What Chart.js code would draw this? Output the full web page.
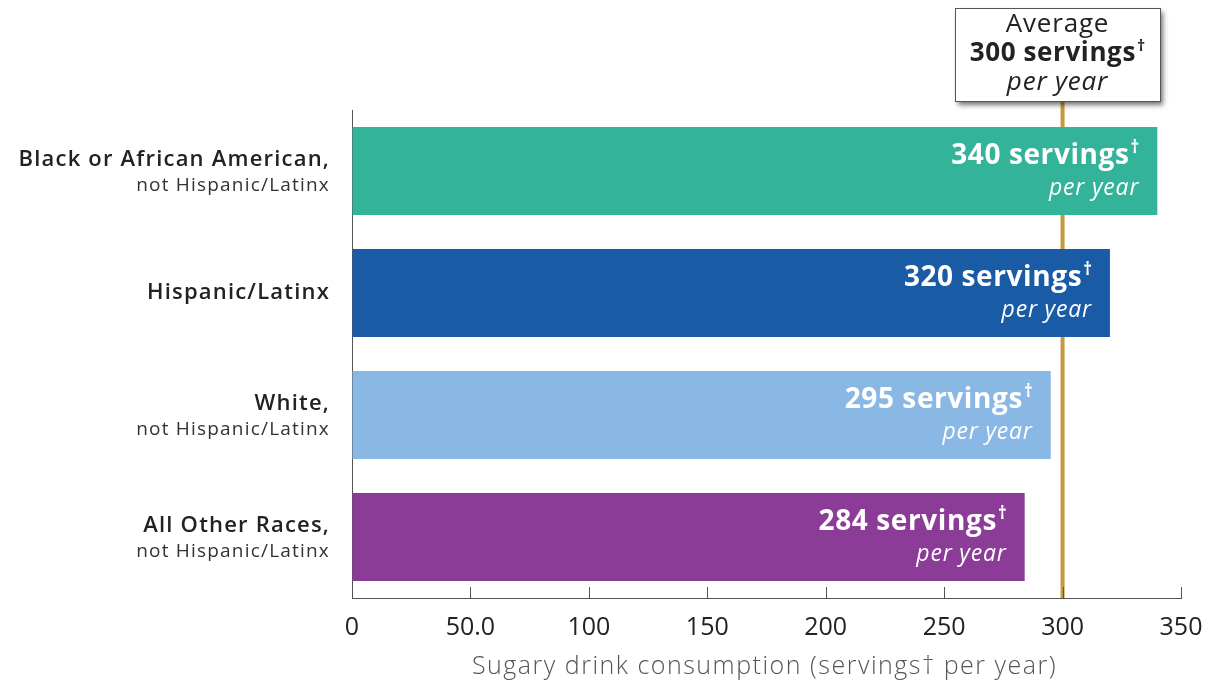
<!DOCTYPE html>
<html><head><meta charset="utf-8">
<script src="https://cdn.jsdelivr.net/npm/chart.js@4/dist/chart.umd.min.js"></script>
<style>html,body{margin:0;padding:0;background:#fff}#wrap{width:1209px;height:686px}</style>
</head><body><div id="wrap"><canvas id="c" width="1209" height="686"></canvas></div>
<script>
const categories = ["Black or African American,", "Hispanic/Latinx", "White,", "All Other Races,"];
const subLabels = ["not Hispanic/Latinx", "", "not Hispanic/Latinx", "not Hispanic/Latinx"];
const servings = [340, 320, 295, 284];
const barColors = ["#33B39A", "#1A5BA6", "#88B8E3", "#8A3C96"];
const averageValue = 300;
const xTicks = [0, 50, 100, 150, 200, 250, 300, 350];
const xTickLabels = ["0", "50.0", "100", "150", "200", "250", "300", "350"];
const axisTitle = "Sugary drink consumption (servings† per year)";
const FONT = "'Open Sans', 'DejaVu Sans', sans-serif";

function txt(ctx, s, x, y, font, color, align, spacing) {
  ctx.save();
  ctx.font = font; ctx.fillStyle = color;
  ctx.textBaseline = 'middle';
  ctx.letterSpacing = (spacing || 0) + 'px';
  let w = ctx.measureText(s).width;
  let left = align === 'right' ? x - w : (align === 'center' ? x - w / 2 : x);
  ctx.textAlign = 'left';
  ctx.fillText(s, left, y);
  ctx.restore();
  return w;
}
function measure(ctx, s, font, spacing) {
  ctx.save(); ctx.font = font; ctx.letterSpacing = (spacing || 0) + 'px';
  const w = ctx.measureText(s).width; ctx.restore(); return w;
}
function daggerText(ctx, main, x, y, size, weight, color, align, spacing) {
  const f1 = weight + ' ' + size + 'px ' + FONT;
  const f2 = weight + ' ' + Math.round(size * 0.6) + 'px ' + FONT;
  const mw = measure(ctx, main, f1, spacing);
  const dw = measure(ctx, '†', f2, 0);
  const total = mw + dw + 1;
  let left = align === 'right' ? x - total : (align === 'center' ? x - total / 2 : x);
  txt(ctx, main, left, y, f1, color, 'left', spacing);
  txt(ctx, '†', left + mw + 1, y - size * 0.3, f2, color, 'left', 0);
}

const overlay = {
  id: 'overlay',
  beforeDatasetsDraw(chart) {
    const ctx = chart.ctx;
    const xs = chart.scales.x;
    const ca = chart.chartArea;
    const ax = xs.getPixelForValue(averageValue);
    ctx.save();
    ctx.strokeStyle = '#C49A3C';
    ctx.lineWidth = 4;
    ctx.beginPath(); ctx.moveTo(ax, 100); ctx.lineTo(ax, ca.bottom); ctx.stroke();
    ctx.restore();
  },
  afterDatasetsDraw(chart) {
    const ctx = chart.ctx;
    const xs = chart.scales.x, ys = chart.scales.y;
    const ca = chart.chartArea;
    // tick marks (inward) and tick labels
    ctx.save();
    ctx.strokeStyle = '#555';
    ctx.lineWidth = 1;
    xTicks.forEach(v => {
      const px = Math.round(xs.getPixelForValue(v)) + 0.5;
      ctx.beginPath(); ctx.moveTo(px, ca.bottom); ctx.lineTo(px, ca.bottom - 11); ctx.stroke();
    });
    ctx.restore();
    xTicks.forEach((v, i) => {
      txt(ctx, xTickLabels[i], xs.getPixelForValue(v), ca.bottom + 30, '400 25px ' + FONT, '#222', 'center', 0);
    });
    // average box
    const bx = 955, by = 8, bw = 205, bh = 93;
    ctx.save();
    ctx.shadowColor = 'rgba(0,0,0,0.55)';
    ctx.shadowBlur = 5; ctx.shadowOffsetX = 3; ctx.shadowOffsetY = 4;
    ctx.fillStyle = '#fff';
    ctx.fillRect(bx, by, bw, bh);
    ctx.restore();
    ctx.save();
    ctx.strokeStyle = '#555'; ctx.lineWidth = 1;
    ctx.strokeRect(bx + 0.5, by + 0.5, bw, bh);
    ctx.restore();
    const cx = bx + bw / 2;
    txt(ctx, 'Average', cx, 25, '400 26px ' + FONT, '#222', 'center', 0.8);
    daggerText(ctx, averageValue + ' servings', cx, 54, 26, 'bold', '#222', 'center', 0.6);
    txt(ctx, 'per year', cx, 83, 'italic 400 26px ' + FONT, '#222', 'center', 0.8);
    // bar labels
    const meta = chart.getDatasetMeta(0);
    meta.data.forEach((bar, i) => {
      const right = bar.x - 18;
      const top = bar.y - bar.height / 2;
      daggerText(ctx, servings[i] + ' servings', right, top + 29, 28, 'bold', '#fff', 'right', 0.6);
      txt(ctx, 'per year', right, top + 61, 'italic 400 23px ' + FONT, '#fff', 'right', 0.8);
    });
    // category labels
    categories.forEach((c, i) => {
      const cy = ys.getPixelForValue(i);
      if (subLabels[i]) {
        txt(ctx, c, 330, cy - 11, '600 22px ' + FONT, '#222', 'right', 1.2);
        txt(ctx, subLabels[i], 330, cy + 15, '400 19px ' + FONT, '#333', 'right', 1.2);
      } else {
        txt(ctx, c, 330, cy, '600 22px ' + FONT, '#222', 'right', 1.2);
      }
    });
    // axis title
    txt(ctx, axisTitle, (xs.left + xs.right) / 2 - 2, 667, '300 25px ' + FONT, '#555', 'center', 1.5);
  }
};

new Chart(document.getElementById('c'), {
  type: 'bar',
  data: {
    labels: categories,
    datasets: [{ data: servings, backgroundColor: barColors, borderWidth: 0, categoryPercentage: 0.72, barPercentage: 1 }]
  },
  options: {
    indexAxis: 'y',
    responsive: false,
    animation: false,
    layout: { padding: { left: 352, top: 110, right: 28, bottom: 88 } },
    plugins: { legend: { display: false }, tooltip: { enabled: false } },
    scales: {
      y: {
        ticks: { display: false },
        grid: { display: false, drawTicks: false },
        border: { display: true, color: '#555', width: 1 }
      },
      x: {
        min: 0, max: 350,
        afterBuildTicks(scale) { scale.ticks = xTicks.map(v => ({ value: v })); },
        ticks: { display: false },
        grid: { drawOnChartArea: false, drawTicks: false },
        border: { display: true, color: '#555', width: 1 },
        title: { display: false }
      }
    }
  },
  plugins: [overlay]
});
</script></body></html>
